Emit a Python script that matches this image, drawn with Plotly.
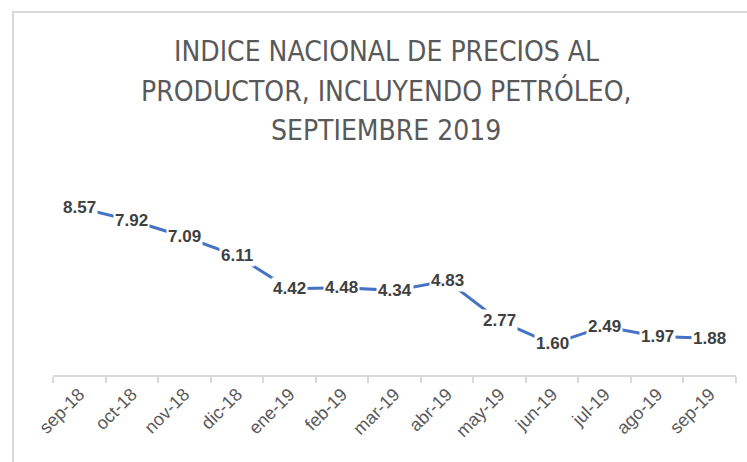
import plotly.graph_objects as go

categories = ["sep-18", "oct-18", "nov-18", "dic-18", "ene-19", "feb-19", "mar-19",
              "abr-19", "may-19", "jun-19", "jul-19", "ago-19", "sep-19"]
values = [8.57, 7.92, 7.09, 6.11, 4.42, 4.48, 4.34, 4.83, 2.77, 1.60, 2.49, 1.97, 1.88]
title_lines = ["INDICE NACIONAL DE PRECIOS AL",
               "PRODUCTOR, INCLUYENDO PETRÓLEO,",
               "SEPTIEMBRE 2019"]

W, H = 747, 462
L, R, T, B = 53, 11, 180, 87
pw, ph = W - L - R, H - T - B

def px_x(p):
    return (p - L) / pw

def px_y(p):
    return (H - B - p) / ph

fig = go.Figure()
fig.add_trace(go.Scatter(
    x=categories, y=values, mode="lines",
    line=dict(color="#4472C4", width=3),
    hoverinfo="skip", showlegend=False,
))

annotations = []
for c, v in zip(categories, values):
    annotations.append(dict(
        x=c, y=v, xref="x", yref="y", text=f"{v:.2f}", showarrow=False,
        xanchor="center", yanchor="middle", bgcolor="white", borderpad=1,
        font=dict(family="Liberation Sans, Arial, sans-serif", size=17, color="#404040", weight="bold"),
    ))

title_y = [52, 91, 130]
for txt, py in zip(title_lines, title_y):
    annotations.append(dict(
        x=px_x(386), y=px_y(py), xref="paper", yref="paper", text=txt, showarrow=False,
        xanchor="center", yanchor="middle",
        font=dict(family="Liberation Sans Narrow, Arial Narrow, DejaVu Sans Condensed, sans-serif",
                  size=28, color="#595959"),
    ))

fig.update_layout(
    width=W, height=H,
    margin=dict(l=L, r=R, t=T, b=B, autoexpand=False),
    paper_bgcolor="white", plot_bgcolor="white",
    annotations=annotations,
    shapes=[dict(type="rect", xref="paper", yref="paper",
                 x0=px_x(13), x1=px_x(770), y0=px_y(480), y1=px_y(12),
                 line=dict(color="#d9d9d9", width=2), fillcolor="rgba(0,0,0,0)", layer="below")],
    xaxis=dict(
        type="category", range=[-0.5, len(categories) - 0.5], automargin=False,
        showline=True, linecolor="#d9d9d9", linewidth=1.5,
        ticks="outside", tickson="boundaries", ticklen=6, tickcolor="#d9d9d9", tickwidth=1.5,
        tickangle=-45, showgrid=False, zeroline=False,
        tickfont=dict(family="Liberation Sans, Arial, sans-serif", size=18, color="#595959"),
    ),
    yaxis=dict(range=[0, 10], visible=False, showgrid=False, zeroline=False, automargin=False),
)

fig.write_html("out.html", config={"displayModeBar": False},
               post_script="document.body.style.margin='0';document.body.style.overflow='hidden';")
